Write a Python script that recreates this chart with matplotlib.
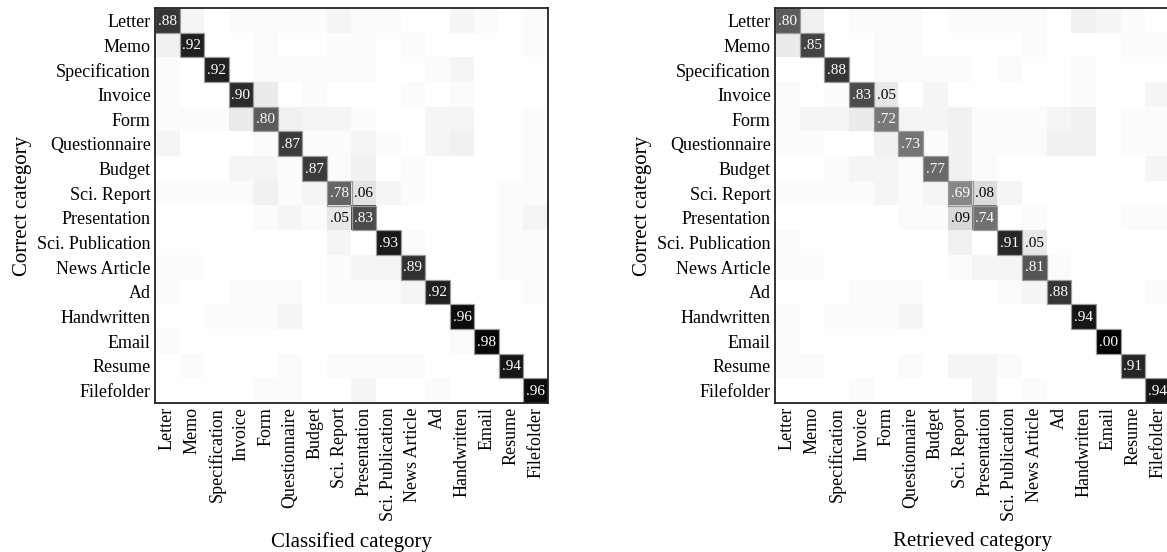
import numpy as np
import matplotlib
matplotlib.use("Agg")
import matplotlib.pyplot as plt
from matplotlib.colors import LinearSegmentedColormap
from matplotlib.patches import Rectangle

plt.rcParams["font.family"] = ["Liberation Serif", "DejaVu Serif"]

# ================================
# DATA
# ================================
categories = ["Letter", "Memo", "Specification", "Invoice", "Form", "Questionnaire",
              "Budget", "Sci. Report", "Presentation", "Sci. Publication",
              "News Article", "Ad", "Handwritten", "Email", "Resume", "Filefolder"]

# rows = correct category, cols = classified category
classified = np.array([
    [.88, .02, .00, .01, .01, .01, .01, .02, .01, .01, .00, .00, .02, .01, .00, .01],
    [.03, .92, .00, .00, .01, .00, .00, .01, .01, .00, .01, .00, .00, .00, .00, .01],
    [.01, .00, .92, .00, .01, .01, .01, .01, .01, .00, .00, .01, .02, .00, .00, .00],
    [.01, .00, .00, .90, .04, .00, .01, .00, .00, .00, .01, .00, .01, .00, .00, .00],
    [.01, .01, .01, .04, .80, .03, .02, .02, .01, .00, .00, .02, .02, .00, .00, .01],
    [.02, .00, .00, .00, .01, .87, .01, .01, .02, .01, .00, .02, .03, .00, .00, .01],
    [.00, .00, .00, .02, .02, .01, .87, .01, .03, .00, .01, .00, .00, .00, .00, .01],
    [.01, .01, .01, .01, .03, .01, .02, .78, .06, .02, .01, .00, .00, .00, .01, .01],
    [.00, .00, .00, .00, .01, .02, .01, .05, .83, .00, .00, .00, .00, .00, .01, .02],
    [.00, .00, .00, .00, .00, .00, .00, .02, .00, .93, .01, .00, .00, .00, .01, .01],
    [.01, .01, .00, .00, .00, .00, .00, .01, .02, .02, .89, .00, .00, .00, .01, .01],
    [.01, .00, .00, .01, .01, .01, .00, .01, .01, .01, .02, .92, .00, .00, .00, .01],
    [.00, .00, .01, .01, .01, .02, .00, .00, .00, .00, .00, .00, .96, .00, .00, .00],
    [.01, .00, .00, .00, .00, .00, .00, .00, .00, .00, .00, .00, .01, .98, .00, .00],
    [.00, .01, .00, .00, .00, .01, .00, .01, .01, .01, .01, .00, .00, .00, .94, .00],
    [.00, .00, .00, .00, .01, .01, .00, .00, .02, .00, .00, .01, .00, .00, .00, .96],
])

# rows = correct category, cols = retrieved category
retrieved = np.array([
    [.80, .03, .00, .01, .01, .01, .00, .01, .01, .01, .01, .00, .03, .02, .01, .00],
    [.04, .85, .00, .00, .01, .01, .00, .00, .00, .00, .01, .00, .00, .00, .01, .01],
    [.00, .00, .88, .00, .01, .01, .01, .01, .00, .01, .00, .00, .01, .00, .00, .00],
    [.01, .00, .01, .83, .05, .00, .02, .00, .00, .00, .00, .00, .01, .00, .00, .02],
    [.01, .02, .02, .04, .72, .02, .02, .03, .01, .01, .01, .02, .03, .00, .01, .01],
    [.01, .01, .00, .00, .03, .73, .01, .03, .01, .01, .01, .03, .03, .00, .01, .01],
    [.00, .00, .01, .02, .02, .01, .77, .03, .01, .00, .00, .00, .00, .00, .00, .02],
    [.01, .01, .01, .01, .02, .01, .02, .69, .08, .02, .00, .00, .00, .00, .00, .00],
    [.00, .00, .00, .00, .00, .01, .01, .09, .74, .00, .01, .00, .00, .00, .01, .01],
    [.01, .00, .00, .00, .00, .00, .00, .03, .00, .91, .05, .00, .00, .00, .00, .00],
    [.01, .01, .00, .00, .00, .00, .00, .01, .02, .02, .81, .01, .00, .00, .00, .00],
    [.00, .00, .00, .01, .01, .01, .00, .00, .00, .01, .02, .88, .00, .00, .00, .01],
    [.01, .00, .01, .01, .01, .02, .00, .00, .00, .00, .00, .00, .94, .00, .00, .00],
    [.01, .00, .00, .00, .00, .00, .00, .00, .00, .00, .00, .00, .00, 1.00, .00, .00],
    [.01, .01, .00, .00, .00, .01, .00, .02, .02, .01, .00, .00, .00, .00, .91, .00],
    [.00, .00, .00, .01, .00, .00, .00, .00, .02, .00, .01, .00, .00, .00, .00, .94],
])

# ================================
# GRAY SCALE (non-linear)
# ================================
anchors = [(0.0, 1.0), (0.05, 0.90), (0.09, 0.85), (0.69, 0.53), (0.72, 0.47),
           (0.78, 0.40), (0.83, 0.30), (0.88, 0.22), (0.92, 0.13), (0.96, 0.05),
           (1.0, 0.0)]
cmap = LinearSegmentedColormap.from_list("grays", [(p, (g, g, g)) for p, g in anchors])


def draw_matrix(ax, mat, xlabel):
    n = len(categories)
    ax.imshow(mat, cmap=cmap, vmin=0, vmax=1, interpolation="nearest", aspect="auto")
    for i in range(n):
        for j in range(n):
            v = mat[i, j]
            if v >= 0.5:
                ax.add_patch(Rectangle((j - 0.5, i - 0.5), 1, 1, fill=False,
                                       edgecolor="#9a9a9a", linewidth=0.9))
            if v >= 0.05:
                ax.text(j, i + 0.03, f"{v:.2f}"[1:], ha="center", va="center",
                        fontsize=11, color="white" if v > 0.5 else "black")
    ax.set_xticks(range(n))
    ax.set_yticks(range(n))
    ax.set_xticklabels(categories, rotation=90, fontsize=13)
    ax.set_yticklabels(categories, fontsize=13)
    ax.tick_params(length=0, pad=3)
    ax.set_xlabel(xlabel, fontsize=15, labelpad=8)
    ax.set_ylabel("Correct category", fontsize=15)
    for s in ax.spines.values():
        s.set_linewidth(1.3)
        s.set_color("#222222")


fig = plt.figure(figsize=(11.67, 5.52), dpi=100)
ax1 = fig.add_axes([155 / 1167, 149 / 552, 393 / 1167, 395 / 552])
ax2 = fig.add_axes([775 / 1167, 149 / 552, 395 / 1167, 395 / 552])

draw_matrix(ax1, classified, "Classified category")
draw_matrix(ax2, retrieved, "Retrieved category")

fig.savefig("out.png", dpi=100)
plt.close(fig)
